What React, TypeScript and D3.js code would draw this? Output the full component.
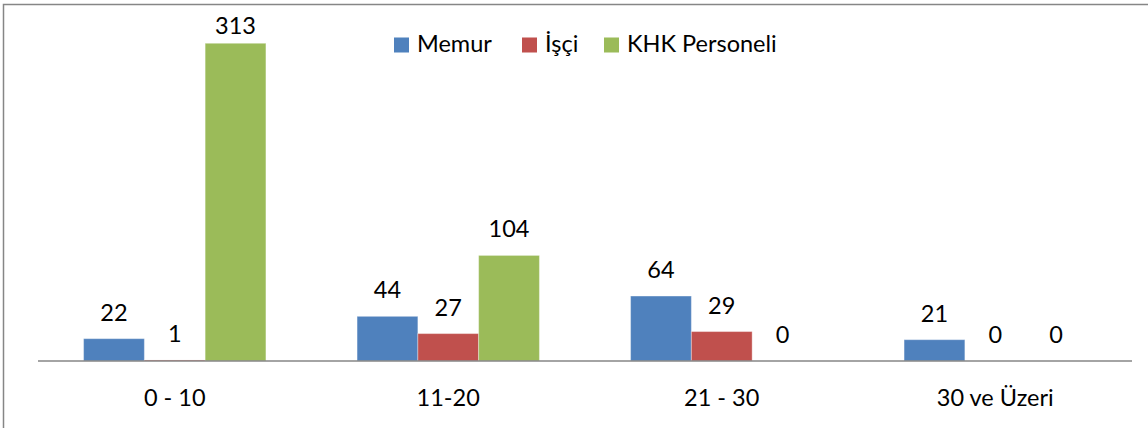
import React, { useEffect, useRef } from 'react'
import * as d3 from 'd3'

const categories = ['0 - 10', '11-20', '21 - 30', '30 ve Üzeri']
const seriesNames = ['Memur', 'İşçi', 'KHK Personeli']
const memur = [22, 44, 64, 21]
const isci = [1, 27, 29, 0]
const khk = [313, 104, 0, 0]
const colors = ['#4F81BD', '#C0504D', '#9BBB59']

const W = 1148
const H = 428
const FONT = 'Lato, "Open Sans", sans-serif'
const FS = 23.5

export default function App () {
  const ref = useRef<SVGSVGElement>(null)

  useEffect(() => {
    const svg = d3.select(ref.current)
    svg.selectAll('*').remove()

    const values = [memur, isci, khk]

    // chart border (only top/left visible in the crop)
    svg.append('rect')
      .attr('x', 3.5).attr('y', 4.5)
      .attr('width', W + 20).attr('height', H + 20)
      .attr('fill', '#fff')
      .attr('stroke', '#868686').attr('stroke-width', 1.5)

    const x = d3.scaleBand().domain(categories).range([38, 1132]).padding(0)
    const xs = d3.scaleBand().domain(seriesNames).range([0, x.bandwidth()])
      .paddingInner(0).paddingOuter(0.75)
    const y = d3.scaleLinear().domain([0, 350]).range([361, 5.7])

    const groups = svg.selectAll('g.cat')
      .data(categories)
      .enter().append('g')
      .attr('class', 'cat')
      .attr('transform', d => 'translate(' + x(d) + ',0)')

    seriesNames.forEach((s, si) => {
      groups.append('rect')
        .attr('x', xs(s)!)
        .attr('width', xs.bandwidth())
        .attr('y', (d, i) => y(values[si][i]))
        .attr('height', (d, i) => y(0) - y(values[si][i]))
        .attr('fill', colors[si])
        .attr('stroke', 'rgba(255,255,255,0.35)')
        .attr('stroke-width', 1)

      groups.append('text')
        .attr('x', xs(s)! + xs.bandwidth() / 2)
        .attr('y', (d, i) => Math.max(y(values[si][i]) - 18, 34))
        .attr('text-anchor', 'middle')
        .attr('font-family', FONT)
        .attr('font-size', FS)
        .attr('fill', '#000')
        .text((d, i) => values[si][i])
    })

    // axis line
    svg.append('line')
      .attr('x1', 38).attr('x2', 1132)
      .attr('y1', y(0)).attr('y2', y(0))
      .attr('stroke', '#868686').attr('stroke-width', 1.5)

    groups.append('text')
      .attr('x', x.bandwidth() / 2)
      .attr('y', 406)
      .attr('text-anchor', 'middle')
      .attr('font-family', FONT)
      .attr('font-size', FS)
      .attr('fill', '#000')
      .text(d => d)

    // legend
    const legendX = [394, 522, 604]
    const leg = svg.selectAll('g.leg')
      .data(seriesNames)
      .enter().append('g')
      .attr('class', 'leg')
      .attr('transform', (d, i) => 'translate(' + legendX[i] + ',0)')
    leg.append('rect')
      .attr('x', 0).attr('y', 37.5)
      .attr('width', 15).attr('height', 15)
      .attr('fill', (d, i) => colors[i])
    leg.append('text')
      .attr('x', 23).attr('y', 52)
      .attr('font-family', FONT)
      .attr('font-size', FS)
      .attr('fill', '#000')
      .text(d => d)
  }, [])

  return (
    <svg ref={ref} width={W} height={H}
      style={{ position: 'absolute', left: 0, top: 0, background: '#fff' }} />
  )
}
